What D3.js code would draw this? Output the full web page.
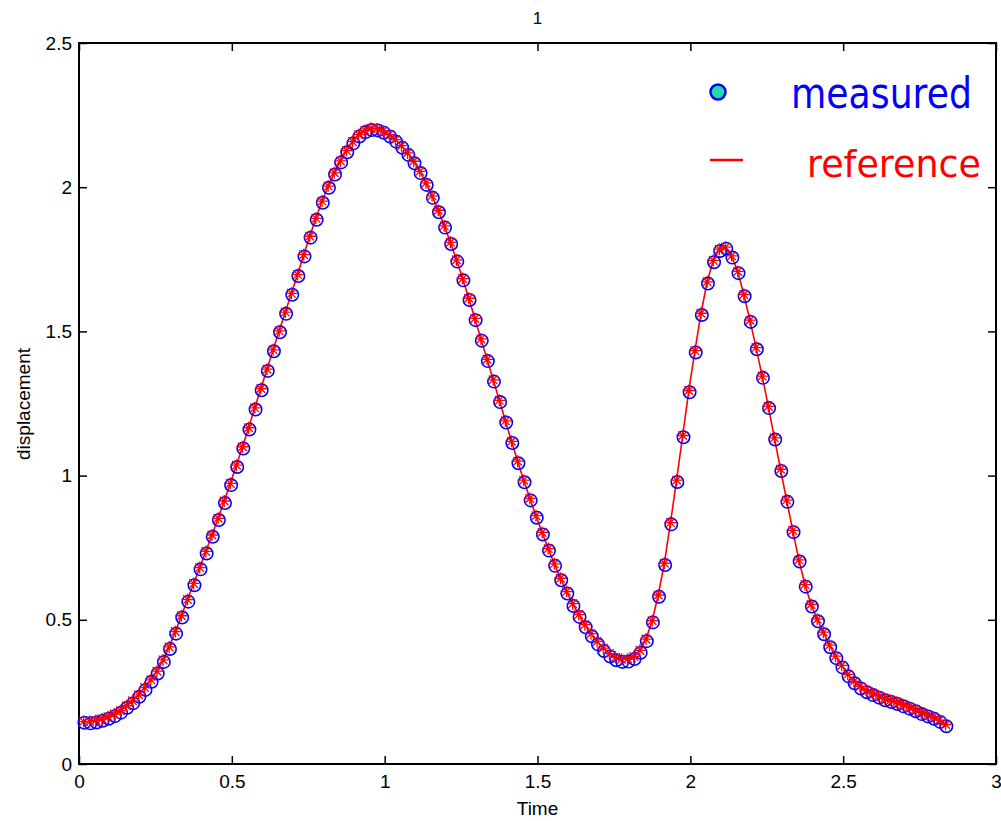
<!DOCTYPE html>
<html>
<head>
<meta charset="utf-8">
<script src="https://cdnjs.cloudflare.com/ajax/libs/d3/7.8.5/d3.min.js"></script>
<style>
  body { margin: 0; background: #fff; }
  svg { display: block; font-family: "Liberation Sans", Arial, sans-serif; }
</style>
</head>
<body>
<div id="chart"></div>
<script>
// time samples (s)
let time = [
  0.015, 0.035, 0.055, 0.075, 0.095, 0.115, 0.135, 0.155, 0.175, 0.195,
  0.215, 0.235, 0.255, 0.275, 0.295, 0.315, 0.335, 0.355, 0.375, 0.395,
  0.415, 0.435, 0.455, 0.475, 0.495, 0.515, 0.535, 0.555, 0.575, 0.595,
  0.615, 0.635, 0.655, 0.675, 0.695, 0.715, 0.735, 0.755, 0.775, 0.795,
  0.815, 0.835, 0.855, 0.875, 0.895, 0.915, 0.935, 0.955, 0.975, 0.995,
  1.015, 1.035, 1.055, 1.075, 1.095, 1.115, 1.135, 1.155, 1.175, 1.195,
  1.215, 1.235, 1.255, 1.275, 1.295, 1.315, 1.335, 1.355, 1.375, 1.395,
  1.415, 1.435, 1.455, 1.475, 1.495, 1.515, 1.535, 1.555, 1.575, 1.595,
  1.615, 1.635, 1.655, 1.675, 1.695, 1.715, 1.735, 1.755, 1.775, 1.795,
  1.815, 1.835, 1.855, 1.875, 1.895, 1.915, 1.935, 1.955, 1.975, 1.995,
  2.015, 2.035, 2.055, 2.075, 2.095, 2.115, 2.135, 2.155, 2.175, 2.195,
  2.215, 2.235, 2.255, 2.275, 2.295, 2.315, 2.335, 2.355, 2.375, 2.395,
  2.415, 2.435, 2.455, 2.475, 2.495, 2.515, 2.535, 2.555, 2.575, 2.595,
  2.615, 2.635, 2.655, 2.675, 2.695, 2.715, 2.735, 2.755, 2.775, 2.795,
  2.815, 2.835
]
// reference displacement (red line + stars)
let reference = [
  0.147, 0.147, 0.151, 0.156, 0.164, 0.173, 0.185, 0.202, 0.219, 0.240,
  0.265, 0.292, 0.322, 0.361, 0.406, 0.459, 0.514, 0.570, 0.626, 0.681,
  0.737, 0.794, 0.852, 0.912, 0.973, 1.036, 1.100, 1.166, 1.235, 1.302,
  1.369, 1.436, 1.502, 1.567, 1.632, 1.697, 1.766, 1.830, 1.892, 1.952,
  2.004, 2.050, 2.091, 2.127, 2.158, 2.182, 2.197, 2.204, 2.203, 2.195,
  2.182, 2.165, 2.144, 2.119, 2.090, 2.055, 2.015, 1.970, 1.920, 1.866,
  1.809, 1.748, 1.683, 1.615, 1.545, 1.474, 1.403, 1.332, 1.261, 1.190,
  1.119, 1.050, 0.984, 0.921, 0.861, 0.803, 0.747, 0.694, 0.644, 0.598,
  0.556, 0.518, 0.483, 0.452, 0.425, 0.402, 0.383, 0.370, 0.363, 0.364,
  0.373, 0.394, 0.433, 0.497, 0.586, 0.696, 0.837, 0.984, 1.139, 1.295,
  1.433, 1.563, 1.672, 1.746, 1.785, 1.792, 1.762, 1.708, 1.628, 1.539,
  1.444, 1.345, 1.240, 1.131, 1.022, 0.915, 0.810, 0.708, 0.622, 0.553,
  0.502, 0.457, 0.412, 0.374, 0.342, 0.311, 0.287, 0.269, 0.256, 0.246,
  0.237, 0.227, 0.221, 0.214, 0.206, 0.198, 0.189, 0.179, 0.171, 0.163,
  0.152, 0.137
]
// measured displacement (blue circles)
let measured = [
  0.143, 0.141, 0.144, 0.150, 0.157, 0.166, 0.178, 0.195, 0.211, 0.233,
  0.257, 0.285, 0.314, 0.354, 0.399, 0.452, 0.508, 0.563, 0.620, 0.675,
  0.730, 0.788, 0.846, 0.905, 0.967, 1.030, 1.094, 1.160, 1.229, 1.296,
  1.363, 1.431, 1.497, 1.561, 1.627, 1.692, 1.760, 1.825, 1.887, 1.946,
  1.998, 2.044, 2.086, 2.121, 2.152, 2.176, 2.191, 2.198, 2.197, 2.189,
  2.176, 2.158, 2.137, 2.112, 2.083, 2.049, 2.008, 1.963, 1.913, 1.860,
  1.803, 1.742, 1.677, 1.609, 1.539, 1.468, 1.397, 1.326, 1.255, 1.184,
  1.113, 1.043, 0.977, 0.914, 0.854, 0.796, 0.740, 0.687, 0.637, 0.591,
  0.548, 0.510, 0.474, 0.443, 0.415, 0.392, 0.373, 0.360, 0.354, 0.355,
  0.364, 0.386, 0.426, 0.491, 0.580, 0.690, 0.831, 0.978, 1.133, 1.289,
  1.427, 1.557, 1.666, 1.740, 1.779, 1.787, 1.756, 1.702, 1.622, 1.533,
  1.438, 1.339, 1.234, 1.125, 1.016, 0.909, 0.804, 0.702, 0.615, 0.546,
  0.495, 0.450, 0.405, 0.367, 0.335, 0.304, 0.280, 0.262, 0.249, 0.239,
  0.230, 0.221, 0.215, 0.208, 0.200, 0.192, 0.183, 0.173, 0.165, 0.157,
  0.146, 0.131
]
let xTicks = [0, 0.5, 1, 1.5, 2, 2.5, 3]
let yTicks = [0, 0.5, 1, 1.5, 2, 2.5]
let legendLabels = ['measured', 'reference']

let W = 1001, H = 821
let plotLeft = 79, plotRight = 996, plotTop = 43, plotBottom = 764

let svg = d3.select('#chart').append('svg')
  .attr('width', W)
  .attr('height', H)

let x = d3.scaleLinear().domain([0, 3]).range([plotLeft, plotRight])
let y = d3.scaleLinear().domain([0, 2.5]).range([plotBottom, plotTop])

// axes: ticks point inward on all four sides
let fmt = d => d3.format('')(d)
svg.append('g')
  .attr('transform', `translate(0,${plotBottom})`)
  .call(d3.axisBottom(x).tickValues(xTicks).tickFormat(fmt).tickSizeInner(-8).tickSizeOuter(0).tickPadding(11))
svg.append('g')
  .attr('transform', `translate(0,${plotTop})`)
  .call(d3.axisTop(x).tickValues(xTicks).tickFormat('').tickSizeInner(-8).tickSizeOuter(0))
svg.append('g')
  .attr('transform', `translate(${plotLeft},0)`)
  .call(d3.axisLeft(y).tickValues(yTicks).tickFormat(fmt).tickSizeInner(-8).tickSizeOuter(0).tickPadding(7))
svg.append('g')
  .attr('transform', `translate(${plotRight},0)`)
  .call(d3.axisRight(y).tickValues(yTicks).tickFormat('').tickSizeInner(-8).tickSizeOuter(0))

svg.selectAll('.domain').remove()
svg.selectAll('.tick line').attr('stroke', '#000').attr('stroke-width', 1.5)
svg.selectAll('.tick text').attr('fill', '#000').style('font-size', '19px')

// frame
svg.append('rect')
  .attr('x', plotLeft)
  .attr('y', plotTop)
  .attr('width', plotRight - plotLeft)
  .attr('height', plotBottom - plotTop)
  .attr('fill', 'none')
  .attr('stroke', '#000')
  .attr('stroke-width', 2)

// reference line
let line = d3.line()
  .x((d, i) => x(time[i]))
  .y(d => y(d))
svg.append('path')
  .datum(reference)
  .attr('d', line)
  .attr('fill', 'none')
  .attr('stroke', '#ff0000')
  .attr('stroke-width', 1.6)

// measured circles
svg.append('g').selectAll('circle')
  .data(measured)
  .join('circle')
  .attr('cx', (d, i) => x(time[i]) + 0.8)
  .attr('cy', d => y(d))
  .attr('r', 6.2)
  .attr('fill', 'none')
  .attr('stroke', '#0000ff')
  .attr('stroke-width', 1.6)

// reference stars (+ and x)
let star = 'M-6,0H6M0,-6V6M-4.3,-4.3L4.3,4.3M-4.3,4.3L4.3,-4.3'
svg.append('g').selectAll('path')
  .data(reference)
  .join('path')
  .attr('transform', (d, i) => `translate(${x(time[i])},${y(d)})`)
  .attr('d', star)
  .attr('fill', 'none')
  .attr('stroke', '#ff0000')
  .attr('stroke-width', 1.3)

// title and axis labels
svg.append('text')
  .attr('x', (plotLeft + plotRight) / 2)
  .attr('y', 24)
  .attr('text-anchor', 'middle')
  .style('font-size', '17px')
  .text('1')
svg.append('text')
  .attr('x', (plotLeft + plotRight) / 2)
  .attr('y', 815)
  .attr('text-anchor', 'middle')
  .style('font-size', '19px')
  .text('Time')
svg.append('text')
  .attr('transform', 'translate(30,404) rotate(-90)')
  .attr('text-anchor', 'middle')
  .style('font-size', '19px')
  .text('displacement')

// legend
let legend = svg.append('g')
legend.append('circle')
  .attr('cx', 718)
  .attr('cy', 92)
  .attr('r', 7.5)
  .attr('fill', '#22dca6')
  .attr('stroke', '#0000ff')
  .attr('stroke-width', 2.5)
legend.append('line')
  .attr('x1', 710)
  .attr('x2', 743)
  .attr('y1', 160)
  .attr('y2', 160)
  .attr('stroke', '#ff0000')
  .attr('stroke-width', 2.5)
legend.append('text')
  .attr('x', 791)
  .attr('y', 108)
  .attr('fill', '#0000ff')
  .attr('textLength', 181)
  .attr('lengthAdjust', 'spacingAndGlyphs')
  .style('font-family', '"DejaVu Sans", sans-serif')
  .style('font-size', '42px')
  .text(legendLabels[0])
legend.append('text')
  .attr('x', 807)
  .attr('y', 177)
  .attr('fill', '#ff0000')
  .attr('textLength', 174)
  .attr('lengthAdjust', 'spacingAndGlyphs')
  .style('font-family', '"DejaVu Sans", sans-serif')
  .style('font-size', '38px')
  .text(legendLabels[1])
</script>
</body>
</html>
